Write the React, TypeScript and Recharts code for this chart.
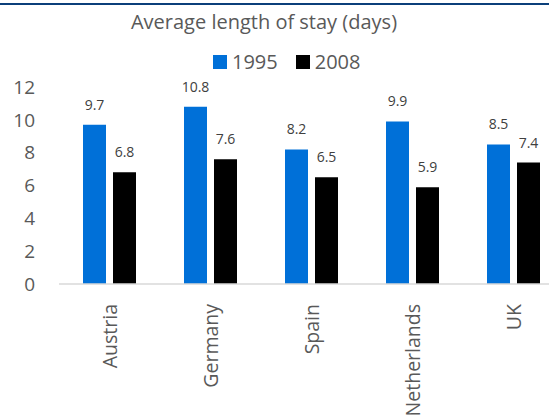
import { BarChart, Bar, XAxis, YAxis, LabelList, Legend } from "recharts";

const countries = ["Austria", "Germany", "Spain", "Netherlands", "UK"];
const stay1995 = [9.7, 10.8, 8.2, 9.9, 8.5];
const stay2008 = [6.8, 7.6, 6.5, 5.9, 7.4];
const yTicks = [0, 2, 4, 6, 8, 10, 12];

const data = countries.map((country, i) => ({
  country,
  y1995: stay1995[i],
  y2008: stay2008[i],
}));

const FONT = "'Open Sans', sans-serif";
const GRAY = "#595959";

const legendItems = [
  { label: "1995", color: "#0070D8" },
  { label: "2008", color: "#000000" },
];

function LegendContent() {
  return (
    <div style={{ display: "flex", fontFamily: FONT, paddingLeft: 213 }}>
      {legendItems.map((item, i) => (
        <div
          key={item.label}
          style={{
            display: "flex",
            alignItems: "center",
            marginRight: i < legendItems.length - 1 ? 18 : 0,
          }}
        >
          <span
            style={{
              width: 14,
              height: 14,
              background: item.color,
              display: "inline-block",
              marginRight: 5,
            }}
          />
          <span style={{ fontSize: 20, color: GRAY, lineHeight: "20px" }}>
            {item.label}
          </span>
        </div>
      ))}
    </div>
  );
}

function CountryTick(props: any) {
  const { x, y, payload } = props;
  return (
    <g transform={`translate(${x},${y + 18})`}>
      <text
        transform="rotate(-90)"
        textAnchor="end"
        dominantBaseline="central"
        fill={GRAY}
        fontSize={19.5}
        fontFamily={FONT}
      >
        {payload.value}
      </text>
    </g>
  );
}

export default function App() {
  return (
    <div
      style={{
        position: "fixed",
        left: 0,
        top: 0,
        width: 549,
        height: 415,
        overflow: "hidden",
        background: "#fff",
      }}
    >
      {/* header rule */}
      <div
        style={{
          position: "absolute",
          left: 0,
          top: 3,
          width: 549,
          height: 2,
          background: "#0B3F7A",
        }}
      />
      <div
        style={{
          position: "absolute",
          left: 0,
          top: 8,
          width: 528,
          textAlign: "center",
          fontFamily: FONT,
          fontSize: 20,
          color: GRAY,
          lineHeight: "28px",
        }}
      >
        Average length of stay (days)
      </div>
      <BarChart
        width={564}
        height={415}
        data={data}
        margin={{ top: 87, right: 0, bottom: 0, left: 0 }}
        barCategoryGap={24}
        barGap={7}
        barSize={23}
      >
        <Legend
          layout="horizontal"
          verticalAlign="middle"
          align="center"
          content={<LegendContent />}
          wrapperStyle={{ top: 52, left: 0, width: 564 }}
        />
        <XAxis
          dataKey="country"
          axisLine={{ stroke: "#D9D9D9", strokeWidth: 1.5 }}
          tickLine={false}
          tickSize={0}
          tick={<CountryTick />}
          height={131}
          interval={0}
        />
        <YAxis
          domain={[0, 12]}
          ticks={yTicks}
          width={59}
          axisLine={false}
          tickLine={false}
          tickSize={0}
          tickMargin={24}
          tick={{ fill: GRAY, fontSize: 19, fontFamily: FONT }}
        />
        <Bar dataKey="y1995" fill="#0070D8" isAnimationActive={false}>
          <LabelList
            dataKey="y1995"
            position="top"
            offset={15}
            fill="#404040"
            fontSize={14}
            fontFamily={FONT}
          />
        </Bar>
        <Bar dataKey="y2008" fill="#000000" isAnimationActive={false}>
          <LabelList
            dataKey="y2008"
            position="top"
            offset={15}
            fill="#404040"
            fontSize={14}
            fontFamily={FONT}
          />
        </Bar>
      </BarChart>
    </div>
  );
}
